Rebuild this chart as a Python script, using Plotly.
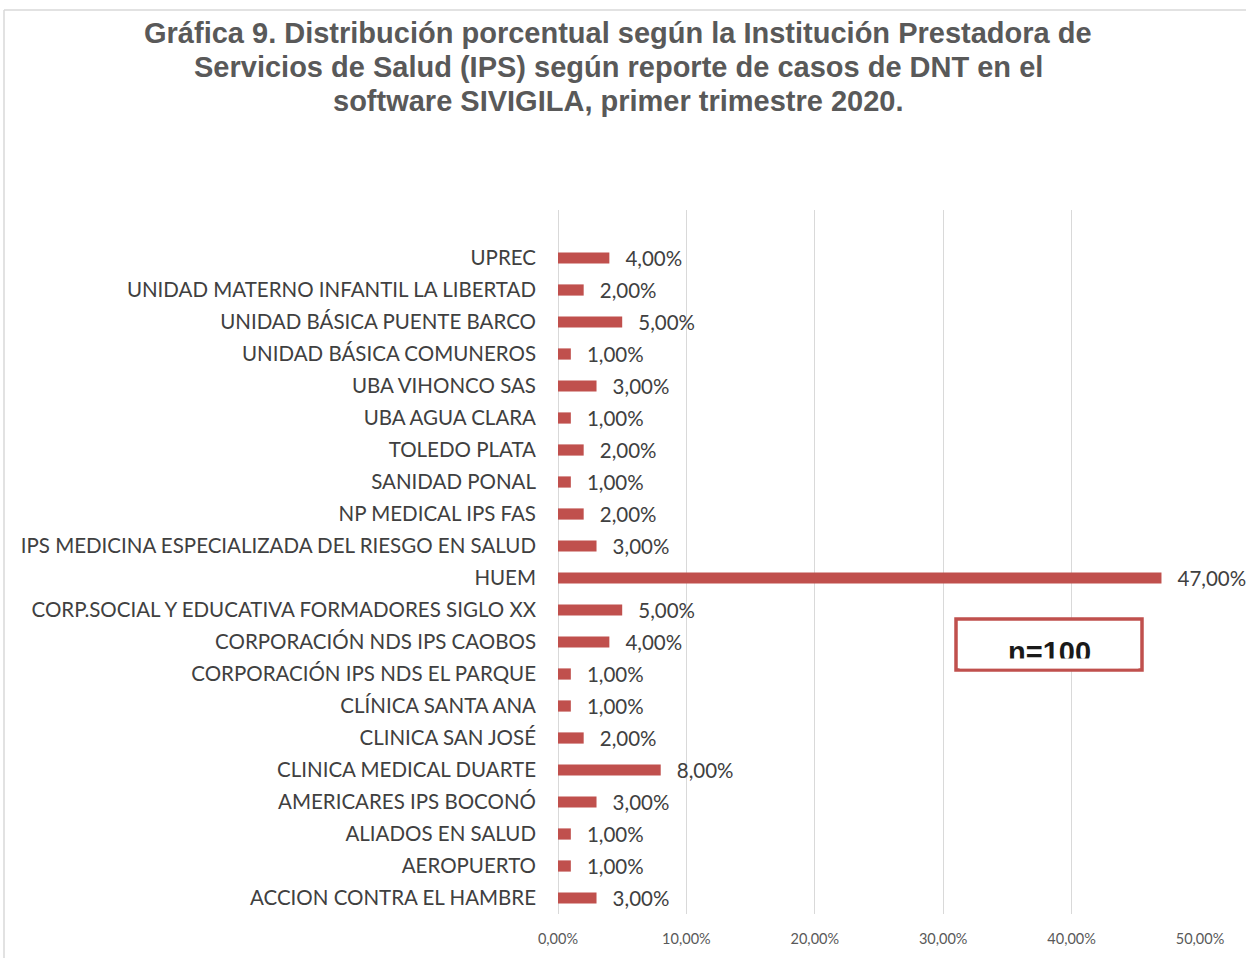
import plotly.graph_objects as go

categories = [
    "ACCION CONTRA EL HAMBRE",
    "AEROPUERTO",
    "ALIADOS EN SALUD",
    "AMERICARES IPS BOCONÓ",
    "CLINICA MEDICAL DUARTE",
    "CLINICA SAN JOSÉ",
    "CLÍNICA SANTA ANA",
    "CORPORACIÓN IPS NDS EL PARQUE",
    "CORPORACIÓN NDS IPS CAOBOS",
    "CORP.SOCIAL Y EDUCATIVA FORMADORES SIGLO XX",
    "HUEM",
    "IPS MEDICINA ESPECIALIZADA DEL RIESGO EN SALUD",
    "NP MEDICAL IPS FAS",
    "SANIDAD PONAL",
    "TOLEDO PLATA",
    "UBA AGUA CLARA",
    "UBA VIHONCO SAS",
    "UNIDAD BÁSICA COMUNEROS",
    "UNIDAD BÁSICA PUENTE BARCO",
    "UNIDAD MATERNO INFANTIL LA LIBERTAD",
    "UPREC",
]
values = [0.03, 0.01, 0.01, 0.03, 0.08, 0.02, 0.01, 0.01, 0.04, 0.05, 0.47,
          0.03, 0.02, 0.01, 0.02, 0.01, 0.03, 0.01, 0.05, 0.02, 0.04]
x_ticks = [0, 0.1, 0.2, 0.3, 0.4, 0.5]

title_lines = [
    "Gráfica 9. Distribución porcentual según la Institución Prestadora de",
    "Servicios de Salud (IPS) según reporte de casos de DNT en el",
    "software SIVIGILA, primer trimestre 2020.",
]

BODY_FONT = "Lato"
L, R, T, B = 558, 46, 210, 44
W, H = 1246, 958
pw, ph = W - L - R, H - T - B

def px_x(x):
    return (x - L) / pw

def px_y(y):
    return (H - B - y) / ph

fig = go.Figure()
fig.add_trace(go.Bar(
    x=values,
    y=categories,
    orientation="h",
    marker=dict(color="#C0504D", line=dict(width=0)),
    text=["  \u2009" + f"{v*100:.2f}".replace(".", ",") + "%" for v in values],
    textposition="outside",
    constraintext="none",
    textfont=dict(family=BODY_FONT, size=20.5, color="#404040"),
    cliponaxis=False,
    width=0.35,
    hoverinfo="skip",
))

fig.update_layout(
    width=W, height=H,
    margin=dict(l=L, r=R, t=T, b=B),
    paper_bgcolor="white",
    plot_bgcolor="white",
    separators=",.",
    showlegend=False,
    xaxis=dict(
        range=[0, 0.5],
        tickvals=x_ticks,
        tickformat=".2%",
        showgrid=True,
        gridcolor="#D9D9D9",
        gridwidth=1,
        zeroline=True,
        zerolinecolor="#D9D9D9",
        zerolinewidth=1,
        showline=False,
        ticks="",
        tickfont=dict(family=BODY_FONT, size=14.5, color="#595959"),
        ticklabelstandoff=14,
    ),
    yaxis=dict(
        type="category",
        categoryorder="array",
        categoryarray=categories,
        range=[-0.5, 21.5],
        showgrid=False,
        ticks="",
        showline=False,
        tickfont=dict(family=BODY_FONT, size=20.5, color="#404040"),
        ticklabelstandoff=21,
    ),
)

# Title lines
for i, line in enumerate(title_lines):
    fig.add_annotation(
        text="<b>" + line + "</b>",
        xref="paper", yref="paper",
        x=px_x(618), y=px_y(33 + i * 34),
        xanchor="center", yanchor="middle",
        showarrow=False,
        font=dict(family="Liberation Sans", size=29, color="#595959"),
    )

# Chart border (left and top edges visible)
fig.add_shape(type="line", xref="paper", yref="paper",
              x0=px_x(4), x1=px_x(4), y0=px_y(10), y1=px_y(970),
              line=dict(color="#D9D9D9", width=1.5))
fig.add_shape(type="line", xref="paper", yref="paper",
              x0=px_x(4), x1=px_x(1260), y0=px_y(10), y1=px_y(10),
              line=dict(color="#D9D9D9", width=1.5))

# n=100 box
fig.add_shape(type="rect", xref="paper", yref="paper",
              x0=px_x(956), x1=px_x(1142), y0=px_y(619), y1=px_y(670),
              line=dict(color="#C0504D", width=3.5), fillcolor="white")
fig.add_annotation(
    text="<b>n=100</b>",
    xref="paper", yref="paper",
    x=px_x(1049), y=px_y(652),
    xanchor="center", yanchor="middle",
    showarrow=False,
    font=dict(family="Liberation Sans", size=29, color="#1a1a1a"),
)
# white strip hiding the lower part of the box text (as in the reference)
fig.add_annotation(
    text=" ",
    xref="paper", yref="paper",
    x=px_x(1049), y=px_y(663),
    xanchor="center", yanchor="middle",
    width=178, height=9,
    bgcolor="white", borderpad=0,
    showarrow=False,
)

fig.write_html("out.html", config={"displayModeBar": False},
               post_script="document.body.style.margin='0';")
